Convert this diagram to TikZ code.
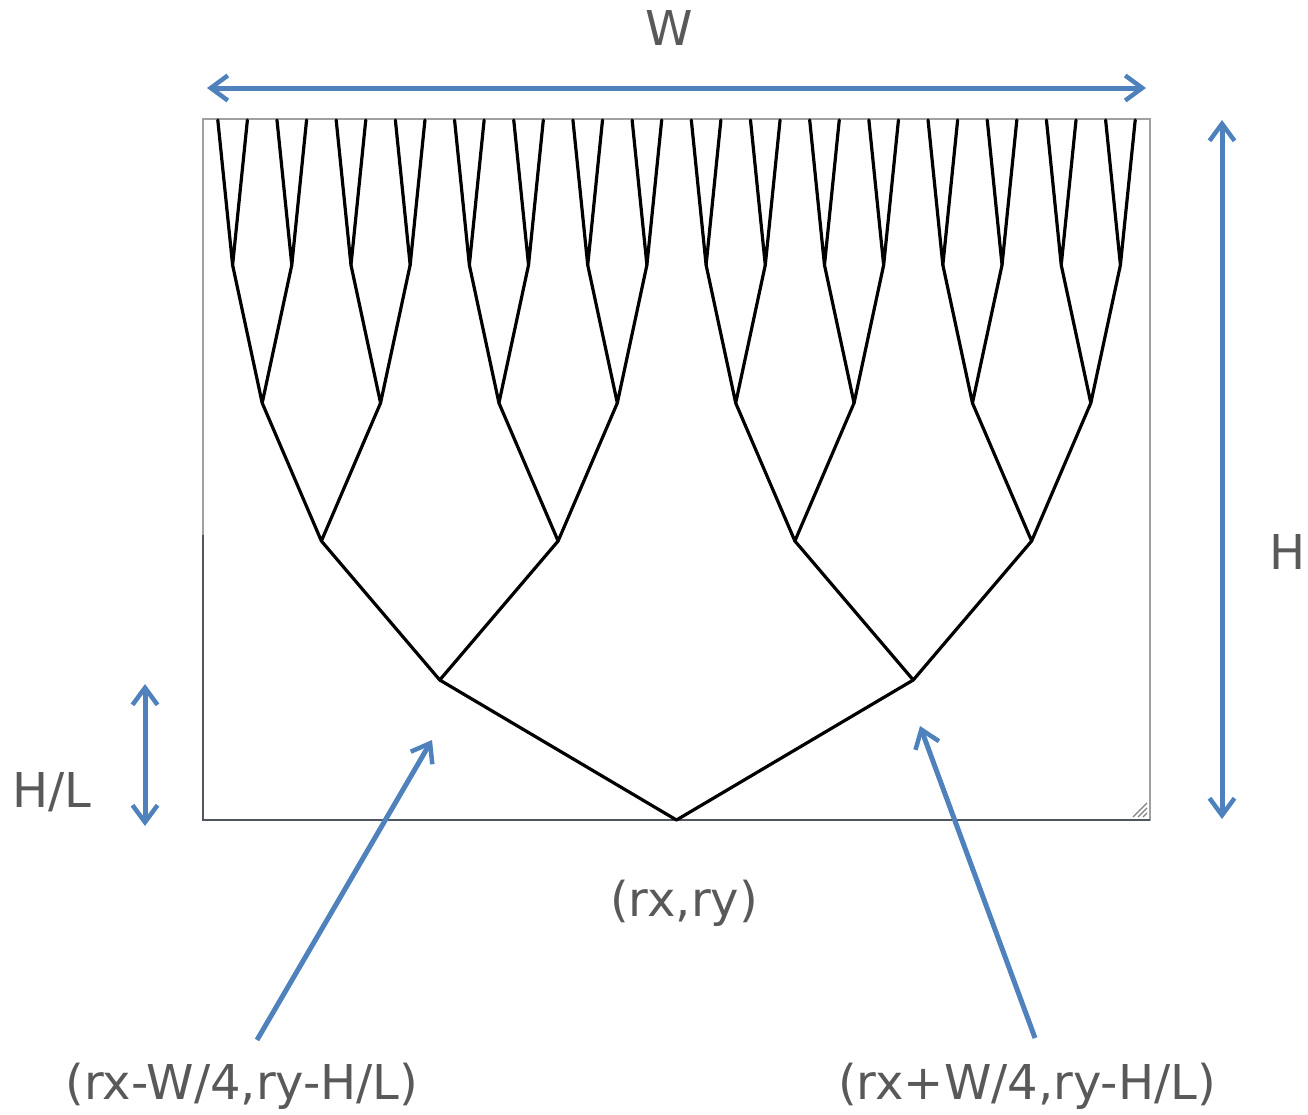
\documentclass[tikz,border=0pt]{standalone}
\usepackage{fontspec}
\setmainfont{DejaVu Sans}
\usetikzlibrary{arrows.meta}
\definecolor{arrowblue}{HTML}{4F81BD}
\definecolor{labelgray}{HTML}{595959}
\definecolor{framegray}{HTML}{A0A0A0}
\definecolor{framedark}{HTML}{505560}
\tikzset{
  treeline/.style={draw=black, line width=3.2pt, line join=round, line cap=round},
  bluearrow/.style={draw=arrowblue, line width=5pt, -{Straight Barb[length=17pt, width=25pt, line width=4.5pt]}},
  bluedouble/.style={draw=arrowblue, line width=5pt, {Straight Barb[length=17pt, width=25pt, line width=4.5pt]}-{Straight Barb[length=17pt, width=25pt, line width=4.5pt]}},
  lbl/.style={text=labelgray, font=\fontsize{48pt}{52pt}\selectfont, inner sep=0pt}
}
\begin{document}
\begin{tikzpicture}[x=1pt, y=-1pt]
\useasboundingbox (0,0) rectangle (1308,1114);
% frame
\draw[framegray, line width=1.8pt] (203,119) rectangle (1150,820);
\draw[framedark, line width=1.8pt] (203,535) -- (203,820) -- (1150,820);
% resize grip
\foreach \d in {4,9,14}{
  \draw[gray, line width=1.2pt] ({1147-\d},817) -- (1147,{817-\d});
}
% tree nodes
\foreach \k/\yy in {0/820,1/680,2/541,3/403,4/265,5/120}{
  \pgfmathtruncatemacro\n{2^\k-1}
  \foreach \i in {0,...,\n}{
    \coordinate (n-\k-\i) at ({203+947/2^(\k+1)*(2*\i+1)}, \yy);
  }
}
% tree edges
\foreach \k in {0,...,4}{
  \pgfmathtruncatemacro\kk{\k+1}
  \pgfmathtruncatemacro\n{2^\k-1}
  \foreach \i in {0,...,\n}{
    \pgfmathtruncatemacro\a{2*\i}
    \pgfmathtruncatemacro\b{2*\i+1}
    \draw[treeline] (n-\kk-\a) -- (n-\k-\i) -- (n-\kk-\b);
  }
}
% dimension arrows
\coordinate (wl) at (207,88);
\coordinate (wr) at (1146,88);
\draw[bluedouble] (wl) -- (wr);
\coordinate (ht) at (1222,120);
\coordinate (hb) at (1222,819);
\draw[bluedouble] (ht) -- (hb);
\coordinate (hlt) at (145,684);
\coordinate (hlb) at (145,826);
\draw[bluedouble] (hlt) -- (hlb);
% pointer arrows
\coordinate (la0) at (257,1040);
\coordinate (la1) at (432,740);
\draw[bluearrow] (la0) -- (la1);
\coordinate (ra0) at (1035,1038);
\coordinate (ra1) at (920,726);
\draw[bluearrow] (ra0) -- (ra1);
% labels
\node[lbl] (W) at (669,28) {W};
\node[lbl] (H) at (1288,552) {H};
\node[lbl] (HL) at (52,792) {H/L};
\node[lbl] (root) at (684,903) {(rx,ry)};
\node[lbl] (left) at (242,1086) {(rx-W/4,ry-H/L)};
\node[lbl] (right) at (1027,1086) {(rx+W/4,ry-H/L)};
\end{tikzpicture}
\end{document}
